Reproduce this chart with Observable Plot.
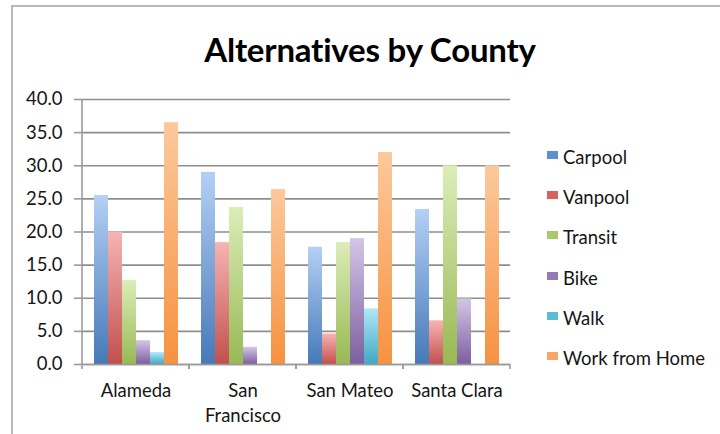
<!DOCTYPE html>
<html>
<head>
<meta charset="utf-8">
<script src="https://cdn.jsdelivr.net/npm/d3@7"></script>
<script src="https://cdn.jsdelivr.net/npm/@observablehq/plot@0.6"></script>
<style>
  html, body { margin: 0; padding: 0; background: #fff; }
  #chart { position: relative; width: 720px; height: 434px; overflow: hidden; font-family: Lato, "Open Sans", sans-serif; color: #161616; }
  #chart .border-left { position: absolute; left: 11px; top: 6px; width: 2px; height: 430px; background: #b8b8b8; }
  #chart .border-top { position: absolute; left: 11px; top: 5px; width: 710px; height: 2px; background: #b8b8b8; }
  #chart h1 { position: absolute; left: 0; width: 740px; top: 29px; margin: 0; text-align: center; font-size: 33px; line-height: 40px; font-weight: 700; letter-spacing: -0.2px; color: #000; }
  #chart svg.plot { position: absolute; left: 0; top: 0; }
  #legend { position: absolute; left: 547px; top: 145px; }
  #legend .item { position: relative; height: 40.2px; font-size: 18.5px; line-height: 24px; padding-left: 16px; white-space: nowrap; }
  #legend .sw { position: absolute; left: 0; top: 6px; width: 11px; height: 8px; }
</style>
</head>
<body>
<div id="chart">
  <div class="border-top"></div>
  <div class="border-left"></div>
  <h1>Alternatives by County</h1>
  <div id="legend"></div>
</div>
<script>
// Commute alternatives by county (percent of respondents)
const counties = ["Alameda", "San Francisco", "San Mateo", "Santa Clara"];
const countyLabels = ["Alameda", "San\nFrancisco", "San Mateo", "Santa Clara"];
const modes = ["Carpool", "Vanpool", "Transit", "Bike", "Walk", "Work from Home"];

const carpool = [25.5, 29.0, 17.7, 23.4];
const vanpool = [20.0, 18.4, 4.6, 6.6];
const transit = [12.7, 23.7, 18.4, 30.0];
const bike = [3.6, 2.6, 19.0, 9.9];
const walk = [1.8, 0, 8.4, 0];
const workFromHome = [36.5, 26.4, 32.0, 30.0];

const yTicks = [0, 5, 10, 15, 20, 25, 30, 35, 40];

// Bar gradient stops: light top, saturated bottom
const topColors = ["#b4d0f5", "#f6b4b3", "#dcedb8", "#d3c6e6", "#b0e8f6", "#fcc99c"];
const bottomColors = ["#4679b8", "#c2504d", "#98b954", "#7d5f9f", "#41a8c4", "#f69240"];
const swatchColors = ["#5b8fd1", "#d9615e", "#a9ca6a", "#947bb5", "#5bbcd6", "#f9a566"];

const seriesValues = [carpool, vanpool, transit, bike, walk, workFromHome];
const data = [];
counties.forEach((c, i) => {
  modes.forEach((m, j) => data.push({county: c, mode: m, value: seriesValues[j][i]}));
});

const gradIds = modes.map((m, j) => `bar-grad-${j}`);
const axisStroke = "#9a9a9a";

// Per-facet frame pieces: short ticks at both edges of each county band under
// the baseline; the vertical axis line only in the first (leftmost) facet.
let facetCalls = 0;
function axisFrame(index, scales) {
  const {x, y} = scales;
  const [x0, x1] = x.range();
  const g = d3.create("svg:g").attr("stroke", axisStroke).attr("stroke-width", 1.6);
  if (facetCalls++ === 0) {
    g.append("line").attr("x1", x0).attr("x2", x0).attr("y1", y(d3.max(yTicks))).attr("y2", y(0));
  }
  [x0, x1].forEach((xe) => {
    g.append("line").attr("x1", xe).attr("x2", xe).attr("y1", y(0)).attr("y2", y(0) + 5);
  });
  return g.node();
}

const plot = Plot.plot({
  width: 720,
  height: 434,
  marginLeft: 82,
  marginRight: 210,
  marginTop: 99,
  marginBottom: 70,
  style: {fontFamily: "Lato, 'Open Sans', sans-serif", fontSize: "18.5px", color: "#161616", background: "transparent"},
  fx: {domain: counties, padding: 0, label: null},
  x: {domain: modes, paddingInner: 0, paddingOuter: 0.78, axis: null},
  y: {domain: [0, 40], label: null},
  color: {domain: modes, range: gradIds.map(id => `url(#${id})`)},
  marks: [
    Plot.gridY(yTicks, {stroke: "#8e8e8e", strokeOpacity: 1, strokeWidth: 1.6}),
    Plot.axisY(yTicks, {
      tickFormat: d3.format(".1f"),
      tickSize: 8,
      tickPadding: 12,
      stroke: axisStroke,
      strokeWidth: 1.6,
      label: null,
      fontSize: 18.5,
      fill: "#161616"
    }),
    Plot.barY(data, {fx: "county", x: "mode", y: "value", fill: "mode"}),
    Plot.ruleY([0], {stroke: axisStroke, strokeWidth: 1.6}),
    axisFrame,
    Plot.axisFx({
      anchor: "bottom",
      tickFormat: (d) => countyLabels[counties.indexOf(d)],
      tickSize: 0,
      tickPadding: 15,
      lineHeight: 1.35,
      label: null,
      fontSize: 18.5,
      fill: "#161616"
    })
  ]
});
plot.classList.add("plot");

// Vertical gradients referenced by the bar fills
const defs = d3.select(plot).insert("defs", ":first-child");
gradIds.forEach((id, j) => {
  const g = defs.append("linearGradient").attr("id", id).attr("x1", 0).attr("y1", 0).attr("x2", 0).attr("y2", 1);
  g.append("stop").attr("offset", "0%").attr("stop-color", topColors[j]);
  g.append("stop").attr("offset", "100%").attr("stop-color", bottomColors[j]);
});

document.getElementById("chart").insertBefore(plot, document.getElementById("legend"));

// Legend
const legend = d3.select("#legend");
modes.forEach((m, j) => {
  const item = legend.append("div").attr("class", "item");
  item.append("span").attr("class", "sw").style("background", swatchColors[j]);
  item.append("span").text(m);
});
</script>
</body>
</html>
